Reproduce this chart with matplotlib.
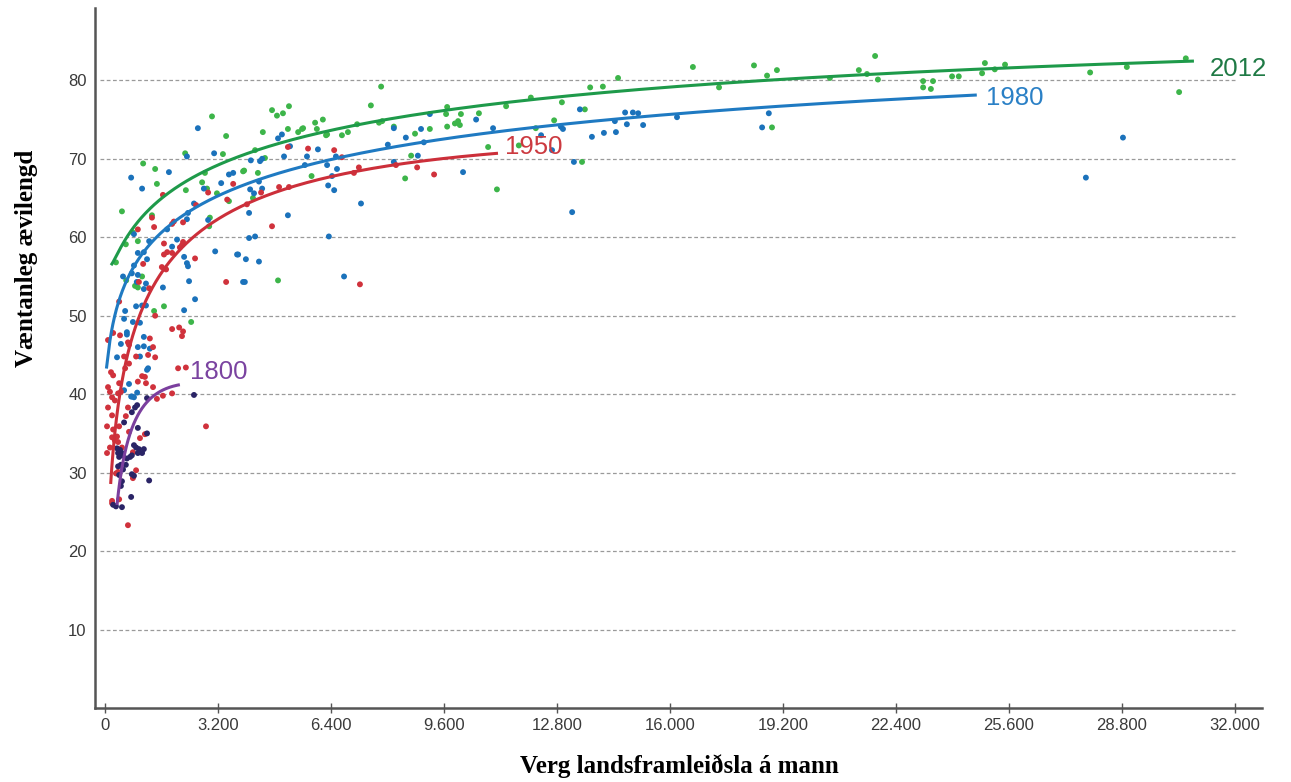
import matplotlib
matplotlib.use("Agg")
import numpy as np
import matplotlib.pyplot as plt
from matplotlib.ticker import FuncFormatter, FixedLocator

# ---------------- data ----------------
gdp_2012 = [30610, 30420, 28940, 27900, 25490, 25200, 24920, 24840, 24180, 23990, 23450, 23170, 23390, 23170,
            21890, 21810, 21580, 21350, 20530, 19030, 18750, 18380, 18890, 17390, 16650, 14530, 14100, 13740,
            13590, 12940, 12720, 13510, 12060, 12200, 11360, 10850, 11100, 11720, 10590, 10080, 10000, 10050,
            9910, 9660, 9690, 9690, 9200, 8780, 8670, 8500, 8180, 7820, 7530, 7760, 7850, 7140, 6880, 6710,
            6260, 6170, 5950, 6000, 5580, 5850, 4730, 4870, 5040, 5210, 4470, 5180, 5470, 5610, 6290, 4250,
            3940, 4330, 4190, 4900, 4530, 3030, 3430, 3340, 2270, 1080, 1420, 1470, 2290, 2750, 2890, 3170,
            3510, 3910, 2830, 480, 1330, 2970, 2950, 590, 930, 790, 310, 1050, 600, 850, 930, 1390, 1670, 2440]
life_2012 = [82.8, 78.5, 81.7, 81.0, 82.0, 81.4, 82.2, 80.9, 80.5, 80.5, 79.9, 79.9, 78.9, 79.1,
             80.1, 83.1, 80.8, 81.3, 80.3, 81.3, 80.6, 81.9, 74.0, 79.1, 81.7, 80.3, 79.2, 79.1,
             76.3, 77.2, 74.9, 69.6, 77.8, 73.9, 76.7, 71.5, 66.1, 71.7, 75.8, 75.7, 74.8, 74.3,
             74.5, 75.7, 74.1, 76.6, 73.8, 73.2, 70.4, 67.5, 74.1, 79.2, 76.8, 74.6, 74.8, 74.4, 73.4, 73.0,
             73.0, 75.0, 74.6, 73.8, 73.8, 67.8, 76.2, 75.5, 75.8, 76.7, 73.4, 73.8, 73.4, 73.9, 73.1, 71.1,
             68.5, 68.2, 65.0, 54.5, 70.1, 75.4, 72.9, 70.6, 70.7, 69.4, 68.7, 66.8, 66.0, 67.0, 66.2, 65.6,
             64.6, 68.4, 68.2, 63.3, 62.8, 62.5, 61.4, 59.1, 59.5, 60.6, 56.8, 55.0, 54.5, 53.8, 53.6, 50.6, 51.2, 49.2]

gdp_1980 = [28830, 27780, 18800, 18610, 16200, 15240, 15100, 14950, 14730, 14440, 14780, 14470, 14130, 13790,
            13450, 12970, 12910, 13280, 13230, 12660, 12350, 10990, 10510, 10140, 9200, 9030, 8950, 8860,
            8520, 8010, 8180, 8180, 7250, 6770, 6340, 6490, 6570, 6540, 6290, 6320, 6430, 6030, 5720, 5660,
            4900, 5010, 5240, 5070, 4130, 4390, 4450, 3630, 4360, 4450, 4110, 4220, 4080, 5180, 4080, 4250,
            3740, 3990, 4360, 3960, 2630, 3090, 2320, 740, 1050, 1810, 3290, 3510, 2800, 2520, 2350, 2320,
            2920, 1760, 2040, 1250, 820, 1900, 930, 1100, 1190, 820, 510, 760, 930, 900, 1100, 1160, 1640,
            2240, 2320, 2350, 2380, 2550, 2240, 3120, 3770, 3910, 570, 880, 1050, 1160, 540, 790, 990, 1100,
            620, 620, 450, 930, 1100, 1270, 990, 340, 1220, 1190, 680, 540, 760, 740, 820, 910]
life_1980 = [72.7, 67.6, 75.8, 74.0, 75.3, 74.3, 75.8, 75.9, 75.9, 74.8, 74.4, 73.4, 73.3, 72.8,
             76.3, 73.8, 74.1, 69.6, 63.2, 71.1, 73.0, 73.9, 75.0, 68.3, 75.7, 72.1, 73.8, 70.4,
             72.7, 71.8, 73.9, 69.6, 64.3, 55.0, 60.1, 66.0, 68.7, 70.3, 69.2, 66.6, 67.8, 71.2, 70.3, 69.2,
             72.6, 73.1, 71.6, 70.3, 69.8, 69.7, 70.0, 68.2, 67.1, 66.2, 66.1, 65.6, 63.1, 62.8, 59.9, 60.1,
             57.8, 57.2, 56.9, 54.3, 73.9, 70.7, 70.3, 67.6, 66.2, 68.3, 66.9, 68.0, 66.2, 64.3, 63.1, 62.3,
             62.2, 61.0, 59.7, 59.5, 60.4, 58.8, 58.0, 58.1, 57.2, 56.4, 55.0, 55.4, 55.2, 54.3, 53.4, 54.1, 53.6,
             57.5, 56.7, 56.3, 54.4, 52.1, 50.7, 58.2, 57.8, 54.3, 50.6, 51.2, 51.3, 51.3, 49.6, 49.2, 49.1, 47.3,
             47.9, 47.6, 46.4, 46.0, 46.1, 45.8, 44.8, 44.7, 43.3, 43.1, 41.3, 40.5, 39.7, 39.7, 39.6, 40.2]

gdp_1950 = [5750, 6490, 6710, 7190, 7050, 8840, 9320, 7220, 8240, 5180, 4930, 5210, 4420, 3630, 4020, 4730,
            1640, 2920, 3460, 2580, 1950, 1900, 2210, 1330, 1390, 930, 1670, 2210, 2180, 2120, 2550, 1670,
            1760, 1900, 1610, 1730, 1080, 960, 1250, 3430, 400, 1420, 1900, 2100, 2210, 2180, 230, 85, 425,
            650, 680, 1270, 1360, 1420, 1220, 880, 540, 680, 570, 1050, 930, 1130, 1160, 1360, 170, 230, 85,
            400, 2290, 2070, 140, 200, 280, 370, 450, 85, 200, 650, 590, 57, 230, 400, 680, 340, 200, 370,
            280, 57, 140, 480, 790, 990, 1130, 1470, 1640, 1900, 2860, 880, 790, 370, 200, 200, 400, 650, 310]
life_1950 = [71.3, 71.1, 70.2, 68.9, 68.2, 68.9, 68.0, 54.0, 69.2, 71.5, 66.4, 66.4, 65.7, 66.8, 64.2, 61.4,
             65.4, 65.7, 64.8, 64.1, 62.0, 61.7, 61.9, 62.5, 61.3, 61.0, 59.2, 59.4, 59.0, 58.7, 57.3, 57.8,
             58.1, 58.0, 56.2, 55.9, 56.6, 54.3, 53.5, 54.3, 51.8, 50.0, 48.3, 48.5, 48.0, 47.4, 47.8, 46.9, 47.5,
             46.6, 46.3, 47.1, 46.0, 44.7, 45.0, 44.8, 44.8, 43.9, 43.3, 42.3, 41.6, 42.2, 41.4, 40.9, 42.8, 42.4, 40.9,
             41.4, 43.4, 43.3, 40.3, 39.6, 39.2, 40.1, 40.3, 38.3, 37.3, 38.3, 37.2, 35.9, 35.5, 35.9, 35.2, 34.6, 34.5, 33.9,
             34.1, 32.5, 33.2, 33.2, 32.6, 34.4, 34.9, 39.4, 39.8, 40.1, 35.9, 30.3, 29.3, 30.1, 26.4, 26.1, 26.6, 23.3, 29.9]

gdp_1800 = [2520, 1190, 850, 910, 760, 930, 1190, 540, 820, 880, 340, 425, 370, 480, 400, 510, 620, 710, 760,
            930, 1050, 960, 590, 450, 370, 510, 400, 760, 820, 480, 450, 1250, 740, 230, 310, 480, 1100]
life_1800 = [39.9, 39.5, 38.3, 38.6, 37.7, 35.7, 35.0, 36.4, 33.5, 33.2, 33.1, 32.9, 32.5, 32.5, 32.0, 32.2, 31.8, 32.0, 32.2,
             32.5, 32.5, 33.0, 31.0, 31.0, 30.8, 30.4, 29.7, 29.8, 29.6, 28.9, 28.3, 29.0, 26.9, 25.9, 25.7, 25.6, 33.0]

# trend curves
curve_2012_x = [170, 370, 1130, 2070, 3030, 3880, 5520, 7420, 9290, 11190, 13080, 14950, 16850, 20000, 23250, 27000, 30840]
curve_2012_y = [56.3, 58.3, 63.1, 66.4, 68.8, 70.2, 72.6, 74.4, 75.9, 77.2, 78.2, 79.0, 79.7, 80.4, 81.0, 81.7, 82.3]
curve_1980_x = [40, 140, 280, 510, 990, 1470, 2410, 3340, 4300, 5520, 7420, 9290, 11190, 13080, 14950, 16850, 20500, 24690]
curve_1980_y = [43.1, 47.3, 49.8, 53.6, 57.5, 60.0, 63.1, 65.1, 67.0, 68.9, 71.1, 72.7, 73.9, 74.8, 75.4, 75.9, 76.9, 77.7]
curve_1950_x = [160, 280, 425, 570, 760, 990, 1270, 1700, 2210, 2890, 3820, 4760, 5520, 6940, 8350, 9770, 11130]
curve_1950_y = [29.3, 34.1, 39.2, 43.9, 47.3, 50.7, 53.6, 56.7, 59.0, 61.1, 63.2, 65.0, 66.6, 68.2, 69.4, 70.3, 71.0]
curve_1800_x = [340, 370, 510, 760, 1080, 1470, 2120]
curve_1800_y = [24.2, 28.7, 32.0, 35.4, 38.0, 39.9, 41.5]

years = ["2012", "1980", "1950", "1800"]
label_pos = {"2012": (31290, 81.4), "1980": (24950, 77.7), "1950": (11330, 71.5), "1800": (2410, 42.8)}

x_ticks = [0, 3200, 6400, 9600, 12800, 16000, 19200, 22400, 25600, 28800, 32000]
y_ticks = [10, 20, 30, 40, 50, 60, 70, 80]

# ---------------- styles ----------------
pt_col = {"2012": "#3db54a", "1980": "#1b72bb", "1950": "#d0323c", "1800": "#2a2466"}
ln_col = {"2012": "#1e9a4a", "1980": "#1f7ac2", "1950": "#cc2f3a", "1800": "#7b3f9e"}
lab_col = {"2012": "#1f7a45", "1980": "#2a80c6", "1950": "#cc3a40", "1800": "#7a43a0"}
fit_deg = {"2012": 3, "1980": 3, "1950": 3, "1800": 2}

fig = plt.figure(figsize=(12.91, 7.82), dpi=100)
ax = fig.add_axes([0.0736, 0.0946, 0.904, 0.895])

ax.set_xlim(-283, 32770)
ax.set_ylim(0, 89.2)

ax.hlines(y_ticks, -140, 32000, colors="#9a9a9a", linestyles=(0, (3, 2)), linewidth=0.9, zorder=0)

data = {
    "1800": (gdp_1800, life_1800, curve_1800_x, curve_1800_y),
    "1950": (gdp_1950, life_1950, curve_1950_x, curve_1950_y),
    "1980": (gdp_1980, life_1980, curve_1980_x, curve_1980_y),
    "2012": (gdp_2012, life_2012, curve_2012_x, curve_2012_y),
}
for yr in ["2012", "1980", "1950", "1800"]:
    gx, gy, cx, cy = data[yr]
    ax.scatter(gx, gy, s=18, color=pt_col[yr], edgecolors="none", zorder=2)

for yr in ["2012", "1980", "1950", "1800"]:
    gx, gy, cx, cy = data[yr]
    # smooth trend line: polynomial in log(x) through the read curve points
    lx = np.log(np.asarray(cx, float))
    coef = np.polyfit(lx, np.asarray(cy, float), fit_deg[yr])
    xs = np.exp(np.linspace(lx.min(), lx.max(), 300))
    ys = np.polyval(coef, np.log(xs))
    ax.plot(xs, ys, color=ln_col[yr], linewidth=2.2, zorder=3, solid_capstyle="butt")
    px, py = label_pos[yr]
    ax.text(px, py, yr, color=lab_col[yr], fontsize=18.5, ha="left", va="center",
            family="Liberation Sans", zorder=4)

for s in ["top", "right"]:
    ax.spines[s].set_visible(False)
for s in ["left", "bottom"]:
    ax.spines[s].set_color("#555555")
    ax.spines[s].set_linewidth(1.8)

ax.xaxis.set_major_locator(FixedLocator(x_ticks))
ax.xaxis.set_major_formatter(FuncFormatter(lambda v, p: "{:,}".format(int(v)).replace(",", ".")))
ax.yaxis.set_major_locator(FixedLocator(y_ticks))
ax.tick_params(axis="x", direction="inout", length=7, width=1, color="#555555",
               labelsize=12, labelcolor="#3a3a3a", pad=4)
ax.tick_params(axis="y", length=0, labelsize=12, labelcolor="#3a3a3a", pad=6)
for lab in ax.get_xticklabels() + ax.get_yticklabels():
    lab.set_family("Liberation Sans")

ax.set_xlabel("Verg landsframleiðsla á mann", family="Liberation Serif", fontweight="bold", fontsize=18)
ax.set_ylabel("Væntanleg ævilengd", family="Liberation Serif", fontweight="bold", fontsize=18)
ax.xaxis.set_label_coords(0.501, -0.066)
ax.yaxis.set_label_coords(-0.049, 0.643)

fig.savefig("out.png", dpi=100)
